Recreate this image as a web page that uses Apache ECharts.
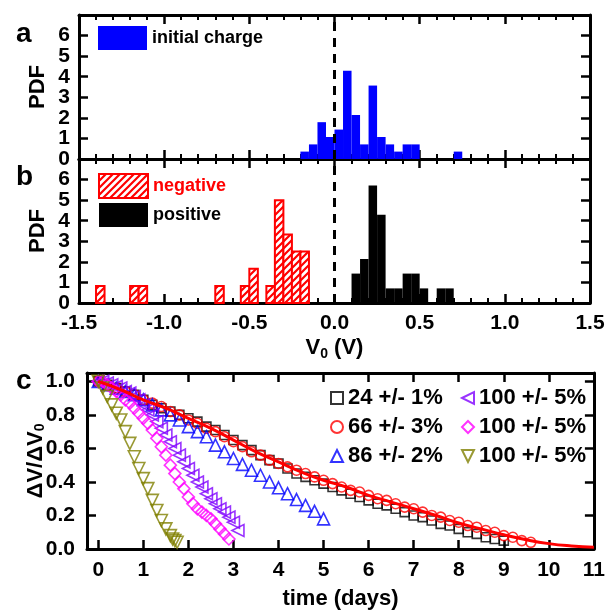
<!DOCTYPE html>
<html>
<head>
<meta charset="utf-8">
<script src="https://cdn.jsdelivr.net/npm/echarts@6/dist/echarts.min.js"></script>
<style>
  html, body { margin: 0; padding: 0; background: #fff; }
  #chart { width: 608px; height: 612px; }
</style>
</head>
<body>
<div id="chart"></div>
<script>
// ---- panel a: initial charge histogram (bin left edge, PDF) ----
const binW = 0.05;
const binsA = [-0.20, -0.15, -0.10, -0.05, 0.00, 0.05, 0.10, 0.15, 0.20, 0.25, 0.30, 0.35, 0.40, 0.45, 0.70];
const pdfA = [0.36, 0.71, 1.79, 1.07, 1.43, 4.29, 2.14, 0.71, 3.57, 1.07, 0.71, 0.36, 0.71, 0.71, 0.36];

// ---- panel b: negative / positive ----
const binsNeg = [-1.40, -1.20, -1.15, -0.70, -0.55, -0.50, -0.40, -0.35, -0.30, -0.25, -0.20];
const pdfNeg = [0.83, 0.83, 0.83, 0.83, 0.83, 1.67, 0.83, 5.00, 3.33, 2.50, 2.50];
const binsPos = [0.10, 0.15, 0.20, 0.25, 0.30, 0.35, 0.40, 0.45, 0.50, 0.60, 0.65];
const pdfPos = [1.43, 2.14, 5.71, 4.29, 0.71, 0.71, 1.43, 1.43, 0.71, 0.71, 0.71];
const zeroLine = [[0, 0], [0, 7]];

// ---- panel c: decay curves ----
const tSq = [0, 0.2, 0.4, 0.6, 0.8, 1.0, 1.2, 1.4, 1.6, 1.8, 2.0, 2.2, 2.4, 2.6, 2.8, 3.0, 3.2, 3.4, 3.6, 3.8, 4.0, 4.2, 4.4, 4.6, 4.8, 5.0, 5.2, 5.4, 5.6, 5.8, 6.0, 6.2, 6.4, 6.6, 6.8, 7.0, 7.2, 7.4, 7.6, 7.8, 8.0, 8.2, 8.4, 8.6, 8.8, 9.0];
const ySq = [1.00, 0.98, 0.96, 0.94, 0.92, 0.89, 0.86, 0.84, 0.82, 0.80, 0.78, 0.76, 0.73, 0.71, 0.68, 0.65, 0.62, 0.59, 0.56, 0.53, 0.51, 0.48, 0.45, 0.43, 0.41, 0.39, 0.37, 0.35, 0.33, 0.31, 0.29, 0.27, 0.26, 0.24, 0.22, 0.20, 0.19, 0.17, 0.15, 0.14, 0.12, 0.10, 0.09, 0.07, 0.06, 0.05];

const tCi = [0, 0.2, 0.4, 0.6, 0.8, 1.0, 1.2, 1.4, 1.6, 1.8, 2.0, 2.2, 2.4, 2.6, 2.8, 3.0, 3.2, 3.4, 3.6, 3.8, 4.0, 4.2, 4.4, 4.6, 4.8, 5.0, 5.2, 5.4, 5.6, 5.8, 6.0, 6.2, 6.4, 6.6, 6.8, 7.0, 7.2, 7.4, 7.6, 7.8, 8.0, 8.2, 8.4, 8.6, 8.8, 9.0, 9.2, 9.4, 9.6];
const yCi = [1.00, 0.98, 0.96, 0.94, 0.92, 0.89, 0.87, 0.85, 0.82, 0.80, 0.77, 0.75, 0.72, 0.70, 0.67, 0.64, 0.61, 0.58, 0.56, 0.53, 0.51, 0.49, 0.47, 0.45, 0.43, 0.41, 0.39, 0.37, 0.35, 0.34, 0.32, 0.30, 0.29, 0.27, 0.25, 0.24, 0.22, 0.20, 0.19, 0.17, 0.16, 0.14, 0.13, 0.11, 0.10, 0.08, 0.07, 0.05, 0.04];

const tTri = [0, 0.2, 0.4, 0.6, 0.8, 1.0, 1.2, 1.4, 1.6, 1.8, 2.0, 2.2, 2.4, 2.6, 2.8, 3.0, 3.2, 3.4, 3.6, 3.8, 4.0, 4.2, 4.4, 4.6, 4.8, 5.0];
const yTri = [1.00, 0.98, 0.96, 0.94, 0.92, 0.89, 0.86, 0.83, 0.80, 0.77, 0.73, 0.70, 0.67, 0.62, 0.58, 0.54, 0.505, 0.47, 0.44, 0.40, 0.365, 0.33, 0.295, 0.26, 0.225, 0.18];

const tLt = [0, 0.1, 0.2, 0.3, 0.4, 0.5, 0.6, 0.7, 0.8, 0.9, 1.0, 1.1, 1.2, 1.3, 1.4, 1.5, 1.6, 1.7, 1.8, 1.9, 2.0, 2.1, 2.2, 2.3, 2.4, 2.5, 2.6, 2.7, 2.8, 2.9, 3.0, 3.1];
const yLt = [1.00, 1.00, 0.99, 0.98, 0.97, 0.96, 0.94, 0.93, 0.91, 0.89, 0.86, 0.83, 0.80, 0.76, 0.72, 0.68, 0.64, 0.60, 0.56, 0.52, 0.48, 0.44, 0.40, 0.37, 0.33, 0.30, 0.27, 0.24, 0.22, 0.19, 0.16, 0.11];

const tDi = [0, 0.1, 0.2, 0.3, 0.4, 0.5, 0.6, 0.7, 0.8, 0.9, 1.0, 1.1, 1.2, 1.3, 1.4, 1.5, 1.6, 1.7, 1.8, 1.9, 2.0, 2.1, 2.2, 2.3, 2.4, 2.5, 2.6, 2.7, 2.8, 2.9];
const yDi = [1.00, 1.00, 0.98, 0.96, 0.94, 0.92, 0.89, 0.87, 0.84, 0.81, 0.78, 0.75, 0.71, 0.66, 0.61, 0.56, 0.50, 0.45, 0.40, 0.36, 0.31, 0.27, 0.24, 0.22, 0.20, 0.18, 0.15, 0.12, 0.09, 0.06];

const tDn = [0, 0.1, 0.2, 0.3, 0.4, 0.5, 0.6, 0.7, 0.8, 0.9, 1.0, 1.1, 1.2, 1.3, 1.4, 1.5, 1.6, 1.65, 1.7, 1.75];
const yDn = [1.00, 0.96, 0.91, 0.86, 0.81, 0.77, 0.70, 0.63, 0.55, 0.48, 0.42, 0.36, 0.29, 0.23, 0.17, 0.12, 0.08, 0.06, 0.05, 0.04];

const tFit = [0, 0.5, 1, 1.5, 2, 2.5, 3, 3.5, 4, 4.5, 5, 5.5, 6, 6.5, 7, 7.5, 8, 8.5, 9, 9.5, 10, 10.5, 11];
const yFit = [1.00, 0.95, 0.89, 0.84, 0.78, 0.72, 0.65, 0.58, 0.52, 0.46, 0.41, 0.37, 0.32, 0.28, 0.24, 0.20, 0.155, 0.12, 0.085, 0.055, 0.032, 0.018, 0.01];

const namesC = ['24 +/- 1%', '66 +/- 3%', '86 +/- 2%', '100 +/- 5% ', '100 +/- 5%  ', '100 +/- 5%   '];
const daysTicks = [0, 1, 2, 3, 4, 5, 6, 7, 8, 9, 10, 11];

const font = 'Liberation Sans, Arial, sans-serif';
const zip = (xs, ys) => xs.map((x, i) => [x, ys[i]]);
const binData = (bins, vals) => bins.map((b, i) => [b, b + binW, vals[i]]);

// marker outlines (also used as legend icons)
const triLeft = 'path://M0,5L10,0L10,10Z';
const triDown = 'path://M0,0L10,0L5,10Z';
const diamond = 'path://M5,0L10,5L5,10L0,5Z';

// red hatch pattern for "negative"
function hatch() {
  const c = document.createElement('canvas');
  c.width = 7; c.height = 7;
  const ctx = c.getContext('2d');
  ctx.fillStyle = '#fff';
  ctx.fillRect(0, 0, 7, 7);
  ctx.strokeStyle = '#ff0000';
  ctx.lineWidth = 2.2;
  ctx.beginPath();
  ctx.moveTo(-1, 8); ctx.lineTo(8, -1);
  ctx.moveTo(-4, 4); ctx.lineTo(4, -4);
  ctx.moveTo(3, 11); ctx.lineTo(11, 3);
  ctx.stroke();
  return c;
}

function renderBin(params, api) {
  const p0 = api.coord([api.value(0), api.value(2)]);
  const p1 = api.coord([api.value(1), 0]);
  return {
    type: 'rect',
    shape: { x: p0[0], y: p0[1], width: p1[0] - p0[0], height: p1[1] - p0[1] },
    style: api.style()
  };
}

const chart = echarts.init(document.getElementById('chart'), null, { renderer: 'canvas' });

const lineStyle = { color: '#000', width: 3 };
const tick = (len) => ({ show: true, inside: true, length: len, lineStyle: { color: '#000', width: 2.5 } });
const lbl = { color: '#000', fontSize: 21, fontWeight: 'bold', fontFamily: font };
const nameFont = { color: '#000', fontSize: 22, fontWeight: 'bold', fontFamily: font };

function vAxisX(grid, pos, showLabel, extra) {
  return Object.assign({
    type: 'value', gridIndex: grid, position: pos, min: -1.5, max: 1.5, interval: 0.5,
    axisLine: { onZero: false, lineStyle: lineStyle },
    axisTick: tick(9),
    minorTick: { show: true, splitNumber: 5, length: 5, lineStyle: { color: '#000', width: 2 } },
    axisLabel: Object.assign({ show: showLabel, margin: 10, formatter: v => v.toFixed(1) }, lbl),
    splitLine: { show: false }
  }, extra || {});
}
function vAxisPdf(grid, pos, showLabel) {
  return {
    type: 'value', gridIndex: grid, position: pos, min: 0, max: 7, interval: 1,
    axisLine: { onZero: false, lineStyle: lineStyle },
    axisTick: tick(9),
    axisLabel: Object.assign({ show: showLabel, margin: 9, showMinLabel: false, showMaxLabel: false }, lbl),
    splitLine: { show: false },
    name: showLabel ? 'PDF' : '',
    nameLocation: 'middle', nameGap: 30, nameRotate: 90, nameMoveOverlap: false,
    nameTextStyle: nameFont
  };
}
// label-only axis carrying the "0" of each PDF axis
function zeroLabelAxis(grid) {
  return {
    type: 'value', gridIndex: grid, position: 'left', min: 0, max: 7,
    axisLine: { show: false }, axisTick: { show: false }, splitLine: { show: false },
    axisLabel: Object.assign({ margin: 9, customValues: [0] }, lbl)
  };
}
function cAxisX(pos, showLabel) {
  return {
    type: 'value', gridIndex: 2, position: pos, min: -0.25, max: 11,
    axisLine: { onZero: false, lineStyle: lineStyle },
    axisTick: Object.assign(tick(9), { customValues: daysTicks }),
    axisLabel: Object.assign({ show: showLabel, margin: 11, customValues: daysTicks }, lbl),
    splitLine: { show: false },
    name: showLabel ? 'time (days)' : '',
    nameLocation: 'middle', nameGap: 39, nameMoveOverlap: false,
    nameTextStyle: nameFont
  };
}
function cAxisY(pos, showLabel) {
  return {
    type: 'value', gridIndex: 2, position: pos, min: 0, max: 1.05, interval: 0.2,
    axisLine: { onZero: false, lineStyle: lineStyle },
    axisTick: tick(9),
    axisLabel: Object.assign({ show: showLabel, margin: 12, showMinLabel: true, showMaxLabel: false, formatter: v => v.toFixed(1) }, lbl),
    splitLine: { show: false },
    name: showLabel ? 'ΔV/ΔV{s|0}' : '',
    nameLocation: 'middle', nameGap: 40, nameRotate: 90, nameMoveOverlap: false,
    nameTextStyle: Object.assign({
      rich: { s: { fontSize: 14, fontWeight: 'bold', fontFamily: font, verticalAlign: 'bottom', padding: [8, 0, 0, 0] } }
    }, nameFont)
  };
}

const legendText = { color: '#000', fontSize: 18, fontWeight: 'bold', fontFamily: font };
const openMarker = (c) => ({ color: 'rgba(255,255,255,0)', borderColor: c, borderWidth: 1.6 });
const legendC = { color: '#000', fontSize: 22, fontWeight: 'bold', fontFamily: font };

const option = {
  animation: false,
  backgroundColor: '#fff',
  grid: [
    { left: 79, top: 15, width: 511, height: 144 },
    { left: 79, top: 159, width: 511, height: 144 },
    { left: 87, top: 373, width: 511, height: 176 }
  ],
  xAxis: [
    vAxisX(0, 'bottom', false),
    vAxisX(0, 'top', false),
    vAxisX(1, 'bottom', true, {
      name: 'V{s|0} (V)', nameLocation: 'middle', nameGap: 32, nameMoveOverlap: false,
      nameTextStyle: Object.assign({
        rich: { s: { fontSize: 14, fontWeight: 'bold', fontFamily: font, padding: [12, 0, 0, 0] } }
      }, nameFont)
    }),
    vAxisX(1, 'top', false),
    cAxisX('bottom', true),
    cAxisX('top', false)
  ],
  yAxis: [
    vAxisPdf(0, 'left', true),
    vAxisPdf(0, 'right', false),
    vAxisPdf(1, 'left', true),
    vAxisPdf(1, 'right', false),
    cAxisY('left', true),
    cAxisY('right', false),
    zeroLabelAxis(0),
    zeroLabelAxis(1)
  ],
  legend: [
    {
      data: ['initial charge'], left: 93, top: 21, icon: 'rect', itemWidth: 49, itemHeight: 24, itemGap: 4,
      textStyle: legendText, selectedMode: false
    },
    {
      data: [{ name: 'negative', textStyle: { color: '#ff0000' } }, 'positive'],
      orient: 'vertical', left: 93, top: 168, icon: 'rect', itemWidth: 49, itemHeight: 24, itemGap: 4,
      textStyle: legendText, selectedMode: false
    },
    {
      data: [
        { name: namesC[0], icon: 'rect' },
        { name: namesC[1], icon: 'circle' },
        { name: namesC[2], icon: 'triangle' }
      ],
      orient: 'vertical', left: 325, top: 382, itemWidth: 12, itemHeight: 12, itemGap: 7,
      textStyle: legendC, formatter: n => n.trim(), selectedMode: false
    },
    {
      data: [
        { name: namesC[3], icon: triLeft },
        { name: namesC[4], icon: diamond },
        { name: namesC[5], icon: triDown }
      ],
      orient: 'vertical', left: 456, top: 382, itemWidth: 12, itemHeight: 12, itemGap: 7,
      textStyle: legendC, formatter: n => n.trim(), selectedMode: false
    }
  ],
  graphic: [
    { type: 'text', left: 16, top: 20, style: { text: 'a', fontSize: 28, fontWeight: 'bold', fontFamily: font, fill: '#000' } },
    { type: 'text', left: 16, top: 163, style: { text: 'b', fontSize: 28, fontWeight: 'bold', fontFamily: font, fill: '#000' } },
    { type: 'text', left: 16, top: 367, style: { text: 'c', fontSize: 28, fontWeight: 'bold', fontFamily: font, fill: '#000' } }
  ],
  series: [
    {
      name: 'initial charge', type: 'custom', xAxisIndex: 0, yAxisIndex: 0, renderItem: renderBin,
      itemStyle: { color: '#0000ff' }, encode: { x: [0, 1], y: 2 }, data: binData(binsA, pdfA)
    },
    {
      type: 'line', xAxisIndex: 0, yAxisIndex: 0, data: zeroLine, showSymbol: false, silent: true,
      lineStyle: { color: '#000', width: 3, type: [9, 7] }, z: 5
    },
    {
      name: 'negative', type: 'custom', xAxisIndex: 2, yAxisIndex: 2, renderItem: renderBin,
      itemStyle: { color: { image: hatch(), repeat: 'repeat' }, borderColor: '#ff0000', borderWidth: 2 },
      encode: { x: [0, 1], y: 2 }, data: binData(binsNeg, pdfNeg)
    },
    {
      name: 'positive', type: 'custom', xAxisIndex: 2, yAxisIndex: 2, renderItem: renderBin,
      itemStyle: { color: '#000' }, encode: { x: [0, 1], y: 2 }, data: binData(binsPos, pdfPos)
    },
    {
      type: 'line', xAxisIndex: 2, yAxisIndex: 2, data: zeroLine, showSymbol: false, silent: true,
      lineStyle: { color: '#000', width: 3, type: [9, 7] }, z: 5
    },
    {
      name: namesC[0], type: 'scatter', xAxisIndex: 4, yAxisIndex: 4, data: zip(tSq, ySq),
      symbol: 'rect', symbolSize: 9, itemStyle: openMarker('#000000')
    },
    {
      name: namesC[1], type: 'scatter', xAxisIndex: 4, yAxisIndex: 4, data: zip(tCi, yCi),
      symbol: 'circle', symbolSize: 10, itemStyle: openMarker('#ff0000')
    },
    {
      name: namesC[2], type: 'scatter', xAxisIndex: 4, yAxisIndex: 4, data: zip(tTri, yTri),
      symbol: 'triangle', symbolSize: 12, itemStyle: openMarker('#0000ff')
    },
    {
      name: namesC[3], type: 'scatter', xAxisIndex: 4, yAxisIndex: 4, data: zip(tLt, yLt),
      symbol: triLeft, symbolSize: 12, itemStyle: openMarker('#8000ff')
    },
    {
      name: namesC[4], type: 'scatter', xAxisIndex: 4, yAxisIndex: 4, data: zip(tDi, yDi),
      symbol: diamond, symbolSize: 12, itemStyle: openMarker('#ff00ff')
    },
    {
      name: namesC[5], type: 'scatter', xAxisIndex: 4, yAxisIndex: 4, data: zip(tDn, yDn),
      symbol: triDown, symbolSize: 12, itemStyle: openMarker('#808000')
    },
    {
      type: 'line', xAxisIndex: 4, yAxisIndex: 4, data: zip(tFit, yFit), smooth: true, showSymbol: false,
      silent: true, lineStyle: { color: '#ff0000', width: 3 }, z: 4
    }
  ]
};

chart.setOption(option);
</script>
</body>
</html>
